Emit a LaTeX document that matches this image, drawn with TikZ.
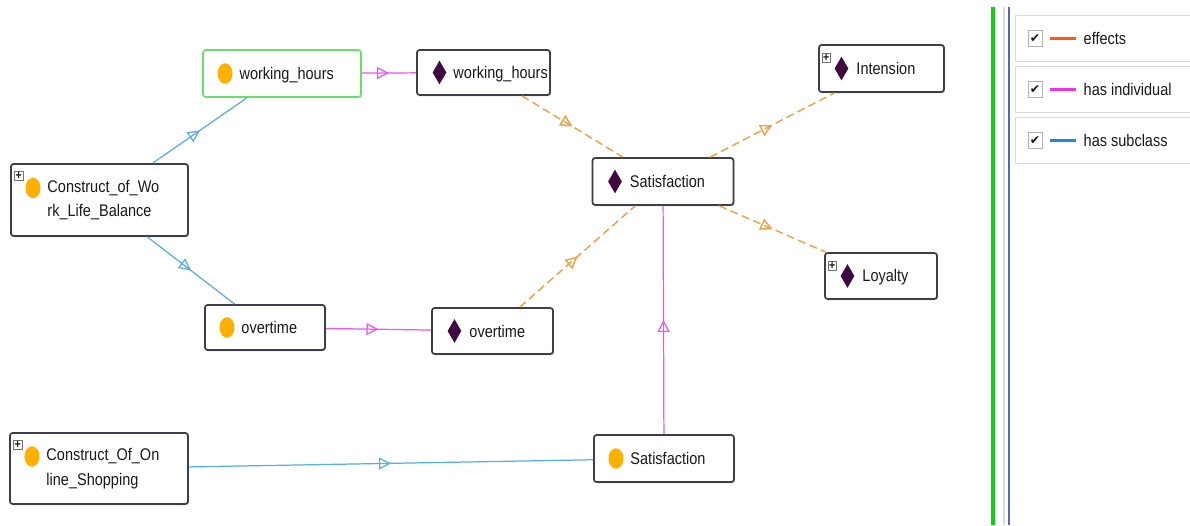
\documentclass[tikz,border=0pt]{standalone}
\usepackage{fontspec}
\setmainfont{Liberation Sans}[FakeStretch=0.86]
\newfontfamily\symfont{DejaVu Sans}
\usetikzlibrary{positioning}
\usetikzlibrary{shapes.geometric}
\usetikzlibrary{arrows.meta}
\usetikzlibrary{decorations.markings}
\usetikzlibrary{shadows}

\definecolor{dotcolor}{HTML}{FFB000}
\definecolor{diacolor}{HTML}{3F0A3F}
\definecolor{boxline}{HTML}{3E3E48}
\definecolor{subclass}{HTML}{55AEE6}
\definecolor{individual}{HTML}{EE55EE}
\definecolor{effects}{HTML}{F0A040}
\definecolor{selgreen}{HTML}{66E066}
\definecolor{divgreen}{HTML}{11CC11}
\definecolor{divblue}{HTML}{5566BB}
\definecolor{legeff}{HTML}{FF5A10}
\definecolor{legind}{HTML}{EE33EE}
\definecolor{legsub}{HTML}{1E88E0}

\tikzset{
  every node/.style={font=\fontsize{9.6}{14}\selectfont, text=black!90},
  entity/.style={draw=boxline, fill=white, rounded corners=1.5pt, line width=1pt, inner sep=0pt,
    drop shadow={shadow xshift=0.6pt, shadow yshift=-0.8pt, opacity=0.3}},
  selected/.style={draw=selgreen, fill=white, rounded corners=1.5pt, line width=0.9pt, inner sep=0pt},
  clsdot/.style={ellipse, fill=dotcolor, minimum width=0.3cm, minimum height=0.41cm, inner sep=0pt},
  inddia/.style={diamond, fill=diacolor, minimum width=0.28cm, minimum height=0.48cm, inner sep=0pt},
  expander/.style={draw=black!55, fill=white, inner sep=0pt, minimum size=0.17cm,
    font=\fontsize{7}{7}\selectfont\bfseries},
  lbl/.style={anchor=west, align=left, inner sep=0pt},
  midtri/.style={postaction={decorate}, decoration={markings,
    mark=at position 0.5 with {\arrow{Triangle[open, length=0.24cm, width=0.24cm]}}}},
  subedge/.style={draw=subclass, line width=0.7pt, midtri},
  indedge/.style={draw=individual, line width=0.7pt, midtri},
  effedge/.style={draw=effects, line width=0.8pt, dash pattern=on 4.5pt off 2.5pt, midtri},
  legbox/.style={draw=black!15, fill=white, minimum width=3.6cm, minimum height=0.92cm, inner sep=0pt},
  chkbox/.style={draw=black!30, fill=white, minimum width=0.28cm, minimum height=0.32cm, inner sep=0pt,
    font=\fontsize{7}{7}\selectfont\symfont}
}

\begin{document}
\begin{tikzpicture}[x=0.02cm, y=-0.02cm]
  \useasboundingbox (0,0) rectangle (1190,525);

  \node [selected, minimum width=3.16cm, minimum height=0.94cm] (whc) at (282,73.5) {};
  \node [entity, minimum width=2.66cm, minimum height=0.9cm] (whi) at (483.5,72.5) {};
  \node [entity, minimum width=2.5cm, minimum height=0.94cm] (int) at (881.5,68.5) {};
  \node [entity, minimum width=3.54cm, minimum height=1.44cm] (cw) at (99.5,200) {};
  \node [entity, minimum width=2.82cm, minimum height=0.94cm] (sati) at (663,181.5) {};
  \node [entity, minimum width=2.24cm, minimum height=0.92cm] (loy) at (881,276) {};
  \node [entity, minimum width=2.4cm, minimum height=0.9cm] (otc) at (265,327.5) {};
  \node [entity, minimum width=2.42cm, minimum height=0.92cm] (oti) at (492.5,331) {};
  \node [entity, minimum width=3.56cm, minimum height=1.42cm] (cos) at (99,468.5) {};
  \node [entity, minimum width=2.8cm, minimum height=0.94cm] (satc) at (664,458.5) {};

  \node [clsdot, right=0.3cm of whc.west] (whcdot) {};
  \node [lbl, right=0.74cm of whc.west, yshift=-0.03cm] (whctxt) {working\_hours};
  \node [inddia, right=0.32cm of whi.west] (whidia) {};
  \node [lbl, right=0.74cm of whi.west, yshift=-0.03cm] (whitxt) {working\_hours};
  \node [expander, below right=0.18cm and 0.07cm of int.north west] (intexp) {+};
  \node [inddia, right=0.32cm of int.west] (intdia) {};
  \node [lbl, right=0.76cm of int.west] (inttxt) {Intension};
  \node [expander, below right=0.16cm and 0.08cm of cw.north west] (cwexp) {+};
  \node [clsdot, right=0.3cm of cw.west, yshift=0.24cm] (cwdot) {};
  \node [lbl, right=0.74cm of cw.west] (cwtxt) {Construct\_of\_Wo\\rk\_Life\_Balance};
  \node [inddia, right=0.32cm of sati.west] (satidia) {};
  \node [lbl, right=0.76cm of sati.west] (satitxt) {Satisfaction};
  \node [expander, below right=0.18cm and 0.07cm of loy.north west] (loyexp) {+};
  \node [inddia, right=0.32cm of loy.west] (loydia) {};
  \node [lbl, right=0.76cm of loy.west, yshift=-0.03cm] (loytxt) {Loyalty};
  \node [clsdot, right=0.3cm of otc.west] (otcdot) {};
  \node [lbl, right=0.74cm of otc.west] (otctxt) {overtime};
  \node [inddia, right=0.32cm of oti.west] (otidia) {};
  \node [lbl, right=0.76cm of oti.west] (otitxt) {overtime};
  \node [expander, below right=0.16cm and 0.08cm of cos.north west] (cosexp) {+};
  \node [clsdot, right=0.3cm of cos.west, yshift=0.24cm] (cosdot) {};
  \node [lbl, right=0.74cm of cos.west] (costxt) {Construct\_Of\_On\\line\_Shopping};
  \node [clsdot, right=0.3cm of satc.west] (satcdot) {};
  \node [lbl, right=0.74cm of satc.west] (satctxt) {Satisfaction};

  \draw [subedge] (cw) -- (whc);
  \draw [subedge] (cw) -- (otc);
  \draw [subedge] (cos) -- (satc);
  \draw [indedge] (whc) -- (whi);
  \draw [indedge] (otc) -- (oti);
  \draw [indedge] (satc) -- (sati);
  \draw [effedge] (whi) -- (sati);
  \draw [effedge] (oti) -- (sati);
  \draw [effedge] (sati) -- (int);
  \draw [effedge] (sati) -- (loy);

  \draw [divgreen, line width=2.2pt] (993,7) -- (993,525);
  \draw [black!15, line width=1pt] (1004,7) -- (1004,525);
  \draw [divblue, line width=1pt] (1009,7) -- (1009,525);

  \foreach \i/\yc/\lab/\col in {1/38.5/effects/legeff, 2/89.5/has individual/legind, 3/140.5/has subclass/legsub} {
    \node [legbox] (leg\i) at (1105,\yc) {};
    \node [chkbox, right=0.26cm of leg\i.west] (chk\i) {✔};
    \coordinate [right=0.16cm of chk\i.east] (ls\i);
    \draw [\col, line width=1.6pt] (ls\i) -- ++(26,0) coordinate (le\i);
    \node [lbl, right=0.14cm of le\i] (lt\i) {\lab};
  }
\end{tikzpicture}
\end{document}
